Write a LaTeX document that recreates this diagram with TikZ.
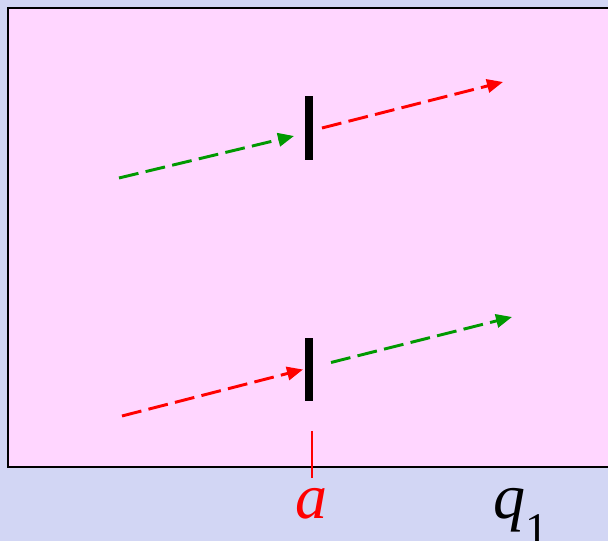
\documentclass[tikz,border=0pt]{standalone}
\usepackage{fontspec}
\setmainfont{Liberation Serif}
\usetikzlibrary{arrows.meta, positioning}
\definecolor{slidebg}{HTML}{D2D6F4}
\definecolor{boxfill}{HTML}{FFD6FF}
\definecolor{raygreen}{HTML}{009900}
\definecolor{rayred}{HTML}{FF0000}

\begin{document}
\begin{tikzpicture}[
    x=0.75pt, y=-0.75pt,
    >={Triangle[length=12pt, width=10pt]},
    slit/.style={draw=black, line width=4.5pt, inner sep=0pt, minimum height=43pt},
    ray/.style={->, line width=2.2pt, dash pattern=on 15pt off 5.5pt},
    greenray/.style={ray, raygreen},
    redray/.style={ray, rayred},
    axislabel/.style={font=\fontsize{48}{50}\selectfont\itshape, inner sep=0pt},
]

% === Background and frame ===
\fill[slidebg] (0,0) rectangle (608,541);
\useasboundingbox (0,0) rectangle (608,541);
\clip (0,0) rectangle (608,541);
\filldraw[fill=boxfill, draw=black, line width=1.5pt] (8,8) rectangle (620,467);

% === Slits ===
\node[slit] (upper) at (309,128) {};
\node[slit] (lower) at (309,369.5) {};

% === Rays ===
\coordinate (upin) at (119,178);
\coordinate (upout) at (503,82);
\coordinate (lowin) at (122,416);
\coordinate (lowout) at (512,317);

\draw[greenray] (upin) -- ([xshift=-11.25pt, yshift=-6pt]upper.center);
\draw[redray] ([xshift=9.75pt]upper.center) -- (upout);
\draw[redray] (lowin) -- ([xshift=-4.5pt]lower.center);
\draw[greenray] ([xshift=16.5pt, yshift=5.25pt]lower.center) -- (lowout);

% === Labels ===
\coordinate (tick) at (312,431);
\draw[rayred, line width=1.1pt] (tick) -- ++(0,47);
\node[axislabel, text=rayred, anchor=base] (a) at (311,519) {a};
\node[axislabel, anchor=base west] (q) at (493,519) {q\raisebox{-0.4em}{\upshape\fontsize{34}{36}\selectfont 1}};

\end{tikzpicture}
\end{document}
